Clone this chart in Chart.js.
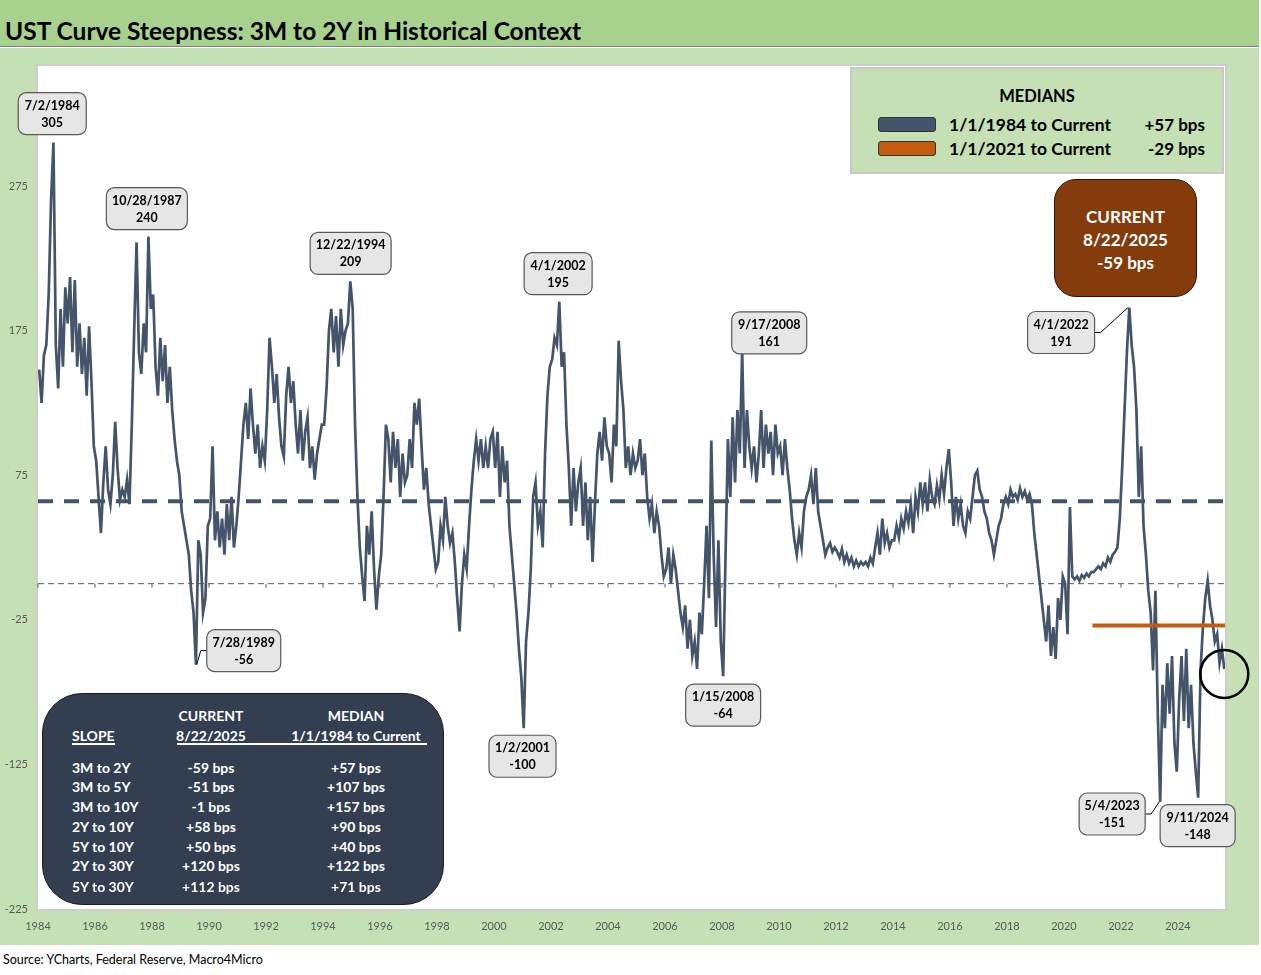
<!DOCTYPE html>
<html>
<head>
<meta charset="utf-8">
<script src="https://cdn.jsdelivr.net/npm/chart.js@4.4.1/dist/chart.umd.min.js"></script>
<style>
  body { margin: 0; background: #fff; font-family: Lato, 'Open Sans', sans-serif; }
  #wrap { position: relative; width: 1261px; height: 975px; overflow: hidden; }
  #title { position: absolute; left: 0; top: 0; width: 1259px; height: 47px; box-sizing: border-box;
    background: #a9d18e; border-bottom: 1px solid #7f7f7f; padding-left: 5px;
    font-weight: bold; font-size: 24.5px; line-height: 62px; color: #000; white-space: nowrap; }
  #frame { position: absolute; left: 0; top: 48px; width: 1259px; height: 897px; background: #c5e0b4; }
  #c { position: absolute; left: 0; top: 0; }
  #legend { position: absolute; left: 850px; top: 67px; width: 374px; height: 107px; box-sizing: border-box;
    background: #c5e0b4; border: 2px solid #c8c8c8; font-weight: bold; color: #000; }
  #legend .hd { position: absolute; left: 0; width: 100%; top: 17px; text-align: center; font-size: 16.5px; }
  #legend .sw { position: absolute; left: 26px; width: 56px; height: 13px; border: 1px solid #333; border-radius: 3px; }
  #legend .tx { position: absolute; left: 97px; font-size: 17.5px; }
  #legend .vl { position: absolute; right: 17px; font-size: 17px; }
  #current { position: absolute; left: 1054px; top: 179px; width: 143px; height: 118px; box-sizing: border-box;
    background: #843c0c; border: 1.5px solid #2b1406; border-radius: 22px; color: #fff;
    font-weight: bold; font-size: 17px; text-align: center; padding-top: 25px; line-height: 23px; }
  #table { position: absolute; left: 42px; top: 693px; width: 402px; height: 212px; box-sizing: border-box;
    background: #333f50; border: 1.5px solid #1a1a1a; border-radius: 40px; color: #fff; font-weight: bold; font-size: 14px; }
  #table span { position: absolute; white-space: nowrap; line-height: 16px; }
  #table .l { left: 29px; }
  #table .c1 { left: 168px; transform: translateX(-50%); }
  #table .c2 { left: 313px; transform: translateX(-50%); }
  #table .rule { position: absolute; top: 49px; height: 1.5px; background: #fff; }
  #src { position: absolute; left: 3px; top: 952px; font-size: 12.5px; color: #000; }
</style>
</head>
<body>
<div id="wrap">
  <div id="title">UST Curve Steepness: 3M to 2Y in Historical Context</div>
  <div id="frame"><canvas id="c" width="1259" height="897"></canvas></div>

  <div id="legend">
    <div class="hd">MEDIANS</div>
    <div class="sw" style="top:48px;background:#44546a"></div>
    <div class="tx" style="top:45px">1/1/1984 to Current</div>
    <div class="vl" style="top:45px">+57 bps</div>
    <div class="sw" style="top:72px;background:#c55a11"></div>
    <div class="tx" style="top:69px">1/1/2021 to Current</div>
    <div class="vl" style="top:69px">-29 bps</div>
  </div>

  <div id="current">CURRENT<br>8/22/2025<br>-59 bps</div>

  <div id="table"></div>

  <div id="src">Source: YCharts, Federal Reserve, Macro4Micro</div>
</div>

<script>
// 3M-2Y spread in bps, one value per month starting Jan 1984
const spread80s = [
  148, 125, 158, 165, 200, 265, 305, 165, 135, 190, 150, 205,   // 1984
  180, 212, 160, 210, 150, 180, 145, 170, 130, 178, 140, 95,    // 1985
  85, 60, 35, 70, 95, 65, 55, 75, 112, 80, 58, 65,              // 1986
  60, 72, 55, 110, 175, 236, 160, 145, 180, 160, 240, 190,      // 1987
  200, 150, 130, 170, 140, 165, 125, 150, 120, 100, 85, 75,     // 1988
  50, 40, 30, 20, -5, -20, -56, 30, 20, -20, -10, 40            // 1989
];
const spread90s = [
  45, 95, 30, 50, 25, 45, 20, 55, 30, 60, 25, 40,               // 1990
  60, 85, 110, 125, 100, 135, 110, 90, 110, 80, 95, 85,         // 1991
  120, 170, 150, 125, 145, 115, 95, 88, 130, 150, 125, 140,     // 1992
  110, 90, 120, 85, 105, 115, 80, 95, 72, 90, 100, 110,         // 1993
  110, 135, 175, 190, 160, 185, 150, 190, 165, 175, 180, 209,   // 1994
  190, 110, 60, 25, 5, -12, 40, 20, 50, 10, -18, 5,             // 1995
  20, 60, 110, 100, 70, 105, 80, 100, 60, 90, 70, 75,           // 1996
  100, 80, 125, 110, 128, 95, 65, 80, 55, 40, 25, 10,           // 1997
  15, 40, 30, 60, 40, 28, 35, 15, -10, -33, 0, 20,              // 1998
  10, 40, 65, 85, 100, 85, 100, 80, 95, 80, 100, 105            // 1999
];
const spread00s = [
  80, 105, 60, 95, 70, 85, 40, 20, 0, -20, -45, -65,            // 2000
  -100, -40, -20, 10, 60, 70, 40, 50, 25, 90, 130, 150,         // 2001
  155, 170, 165, 195, 150, 160, 110, 80, 40, 80, 50, 70,        // 2002
  80, 40, 70, 30, 60, 15, 55, 90, 105, 85, 115, 95,             // 2003
  90, 70, 110, 95, 168, 140, 120, 80, 95, 75, 90, 80,           // 2004
  85, 100, 75, 90, 60, 45, 55, 35, 50, 40, 20, 5,               // 2005
  10, 25, 0, 20, 10, -5, -20, -30, -15, -45, -25, -50,          // 2006
  -40, -59, -20, -35, 0, 40, -10, 99, 20, -30, 30, -40,         // 2007
  -64, 20, 100, 60, 115, 70, 120, 90, 161, 80, 120, 95,         // 2008
  80, 95, 70, 90, 120, 80, 110, 90, 105, 75, 110, 90            // 2009
];
const spread10s = [
  95, 75, 100, 80, 65, 45, 30, 20, 35, 25, 50, 60,              // 2010
  65, 75, 55, 80, 50, 40, 30, 20, 25, 28, 22, 25,               // 2011
  22, 18, 24, 15, 20, 14, 18, 12, 16, 12, 15, 13,               // 2012
  15, 12, 18, 14, 25, 35, 20, 45, 28, 35, 25, 30,               // 2013
  30, 40, 32, 45, 38, 50, 42, 55, 35, 60, 50, 70,               // 2014
  55, 70, 50, 72, 60, 55, 68, 58, 75, 62, 80, 93,               // 2015
  70, 40, 60, 45, 55, 40, 35, 50, 45, 60, 75, 78,               // 2016
  65, 60, 50, 45, 35, 30, 20, 30, 40, 45, 55, 60,               // 2017
  55, 65, 60, 62, 58, 66, 60, 64, 58, 62, 55, 35,               // 2018
  20, 5, -10, -25, -40, -15, -50, -30, -52, -10, -25, 5         // 2019
];
const spread20s = [
  0, -35, 53, 5, 3, 5, 2, 6, 4, 7, 5, 8,                        // 2020
  8, 10, 12, 10, 14, 12, 18, 15, 20, 22, 25, 45,                // 2021
  80, 120, 160, 191, 165, 150, 120, 60, 95, 40, 20, -5,         // 2022
  -20, -60, -5, -90, -151, -70, -100, -55, -90, -50, -110, -130, // 2023
  -80, -50, -95, -45, -100, -70, -110, -130, -148, -60, -30, -10, // 2024
  2, -15, -25, -40, -35, -55, -45, -59                          // 2025
];

const medianAll = 57;     // 1/1/1984 to current
const median2021 = -29;   // 1/1/2021 to current
const xTicks = [1984, 1986, 1988, 1990, 1992, 1994, 1996, 1998, 2000, 2002, 2004,
  2006, 2008, 2010, 2012, 2014, 2016, 2018, 2020, 2022, 2024];
const yTicks = [-225, -125, -25, 75, 175, 275];

// labelled highs and lows
const noteDates  = ['7/2/1984', '10/28/1987', '12/22/1994', '4/1/2002', '9/17/2008', '4/1/2022',
  '7/28/1989', '1/2/2001', '1/15/2008', '5/4/2023', '9/11/2024'];
const noteYears  = [1984.50, 1987.82, 1994.97, 2002.25, 2008.71, 2022.25,
  1989.57, 2001.00, 2008.04, 2023.34, 2024.69];
const noteValues = [305, 240, 209, 195, 161, 191, -56, -100, -64, -151, -148];
// box placement relative to its point: dx, dy, width, connector
const noteBoxes = [
  [0, -29, 68, 0], [0, -28, 81, 0], [0, -28, 81, 0], [0, -28, 68, 0], [27, -18, 75, 0],
  [-67, 25, 67, 1], [47, -14, 74, 1], [0, 28, 67, 0], [0, 29, 75, 0], [-47, 12, 66, 1], [0, 28, 75, 0]
];

// slope table
const slopeNames = ['3M to 2Y', '3M to 5Y', '3M to 10Y', '2Y to 10Y', '5Y to 10Y', '2Y to 30Y', '5Y to 30Y'];
const slopeNow = ['-59 bps', '-51 bps', '-1 bps', '+58 bps', '+50 bps', '+120 bps', '+112 bps'];
const slopeMedian = ['+57 bps', '+107 bps', '+157 bps', '+90 bps', '+40 bps', '+122 bps', '+71 bps'];

const tbl = document.getElementById('table');
let html = '<span class="c1" style="top:14px">CURRENT</span><span class="c2" style="top:14px">MEDIAN</span>' +
  '<span class="l" style="top:34px">SLOPE</span><span class="c1" style="top:34px">8/22/2025</span>' +
  '<span class="c2" style="top:34px">1/1/1984 to Current</span>' +
  '<div class="rule" style="left:29px;width:43px"></div><div class="rule" style="left:134px;width:250px"></div>';
const rowTops = [66, 85, 105, 125, 145, 164, 185];
slopeNames.forEach((n, i) => {
  html += '<span class="l" style="top:' + rowTops[i] + 'px">' + n + '</span>' +
    '<span class="c1" style="top:' + rowTops[i] + 'px">' + slopeNow[i] + '</span>' +
    '<span class="c2" style="top:' + rowTops[i] + 'px">' + slopeMedian[i] + '</span>';
});
tbl.innerHTML = html;

const allSpread = [...spread80s, ...spread90s, ...spread00s, ...spread10s, ...spread20s];
const points = allSpread.map((v, i) => ({ x: 1984 + (i + 0.5) / 12, y: v }));
const xEnd = 2025.65;

const FONT = 'Lato, "Open Sans", sans-serif';

function roundRect(ctx, x, y, w, h, r) {
  ctx.beginPath();
  ctx.moveTo(x + r, y);
  ctx.arcTo(x + w, y, x + w, y + h, r);
  ctx.arcTo(x + w, y + h, x, y + h, r);
  ctx.arcTo(x, y + h, x, y, r);
  ctx.arcTo(x, y, x + w, y, r);
  ctx.closePath();
}

const decor = {
  id: 'decor',
  beforeDraw(chart) {
    const { ctx, chartArea: a } = chart;
    ctx.save();
    ctx.fillStyle = '#ffffff';
    ctx.fillRect(a.left, a.top, a.right - a.left, a.bottom - a.top);
    ctx.strokeStyle = '#cdcdcd';
    ctx.lineWidth = 2;
    ctx.strokeRect(a.left - 1, a.top - 1, a.right - a.left + 2, a.bottom - a.top + 2);
    ctx.restore();
  },
  beforeDatasetsDraw(chart) {
    const { ctx, chartArea: a, scales: { x, y } } = chart;
    const y0 = y.getPixelForValue(0);
    ctx.save();
    ctx.strokeStyle = '#595959';
    ctx.lineWidth = 1;
    ctx.setLineDash([6, 4]);
    ctx.beginPath();
    ctx.moveTo(a.left, y0);
    ctx.lineTo(a.right, y0);
    ctx.stroke();
    ctx.setLineDash([]);
    xTicks.forEach(t => {
      const px = x.getPixelForValue(t);
      ctx.beginPath();
      ctx.moveTo(px, y0);
      ctx.lineTo(px, y0 + 4);
      ctx.stroke();
    });
    ctx.restore();
  },
  afterDatasetsDraw(chart) {
    const { ctx, scales: { x, y } } = chart;
    ctx.save();
    // circle round the latest reading
    const last = points[points.length - 1];
    ctx.strokeStyle = '#000';
    ctx.lineWidth = 2.5;
    ctx.beginPath();
    ctx.arc(x.getPixelForValue(last.x), y.getPixelForValue(last.y) + 5, 24, 0, Math.PI * 2);
    ctx.stroke();

    noteDates.forEach((d, i) => {
      const px = x.getPixelForValue(noteYears[i]);
      const py = y.getPixelForValue(noteValues[i]);
      const [dx, dy, w, link] = noteBoxes[i];
      const h = 42;
      const cx = px + dx, cy = py + dy;
      if (link) {
        ctx.strokeStyle = '#000';
        ctx.lineWidth = 1;
        ctx.beginPath();
        ctx.moveTo(dx < 0 ? cx + w / 2 : cx - w / 2, cy);
        ctx.lineTo(dx < 0 ? cx + w / 2 + 6 : cx - w / 2 - 6, cy);
        ctx.lineTo(px, py);
        ctx.stroke();
      }
      roundRect(ctx, cx - w / 2, cy - h / 2, w, h, 8);
      ctx.fillStyle = '#e7e6e6';
      ctx.fill();
      ctx.strokeStyle = '#595959';
      ctx.lineWidth = 1.2;
      ctx.stroke();
      ctx.fillStyle = '#000';
      ctx.font = 'bold 12.5px ' + FONT;
      ctx.textAlign = 'center';
      ctx.textBaseline = 'middle';
      ctx.fillText(d, cx, cy - 8);
      ctx.fillText(String(noteValues[i]), cx, cy + 9);
    });
    ctx.restore();
  }
};

new Chart(document.getElementById('c'), {
  type: 'line',
  data: {
    datasets: [
      {
        data: [{ x: 2021, y: median2021 }, { x: xEnd, y: median2021 }],
        borderColor: '#c55a11', borderWidth: 4, pointRadius: 0, order: 1
      },
      {
        data: [{ x: 1984, y: medianAll }, { x: xEnd, y: medianAll }],
        borderColor: '#44546a', borderWidth: 4, borderDash: [15, 11], pointRadius: 0, order: 1
      },
      {
        data: points,
        borderColor: '#44546a', borderWidth: 2.7, pointRadius: 0, tension: 0, order: 2
      }
    ]
  },
  options: {
    responsive: false,
    animation: false,
    layout: { padding: { top: 18, right: 34, left: 0, bottom: 0 } },
    plugins: { legend: { display: false }, tooltip: { enabled: false } },
    scales: {
      x: {
        type: 'linear', min: 1984, max: xEnd,
        grid: { display: false }, border: { display: false },
        ticks: { color: '#595959', font: { family: FONT, size: 11 }, padding: 3, maxRotation: 0,
          autoSkip: false, callback: v => String(v) },
        afterBuildTicks: s => { s.ticks = xTicks.map(v => ({ value: v })); },
        afterFit: s => { s.height = 36; }
      },
      y: {
        min: -225, max: 358,
        grid: { display: false }, border: { display: false },
        ticks: { color: '#595959', font: { family: FONT, size: 11 }, padding: 2 },
        afterBuildTicks: s => { s.ticks = yTicks.map(v => ({ value: v })); },
        afterFit: s => { s.width = 38; }
      }
    }
  },
  plugins: [decor]
});
</script>
</body>
</html>
